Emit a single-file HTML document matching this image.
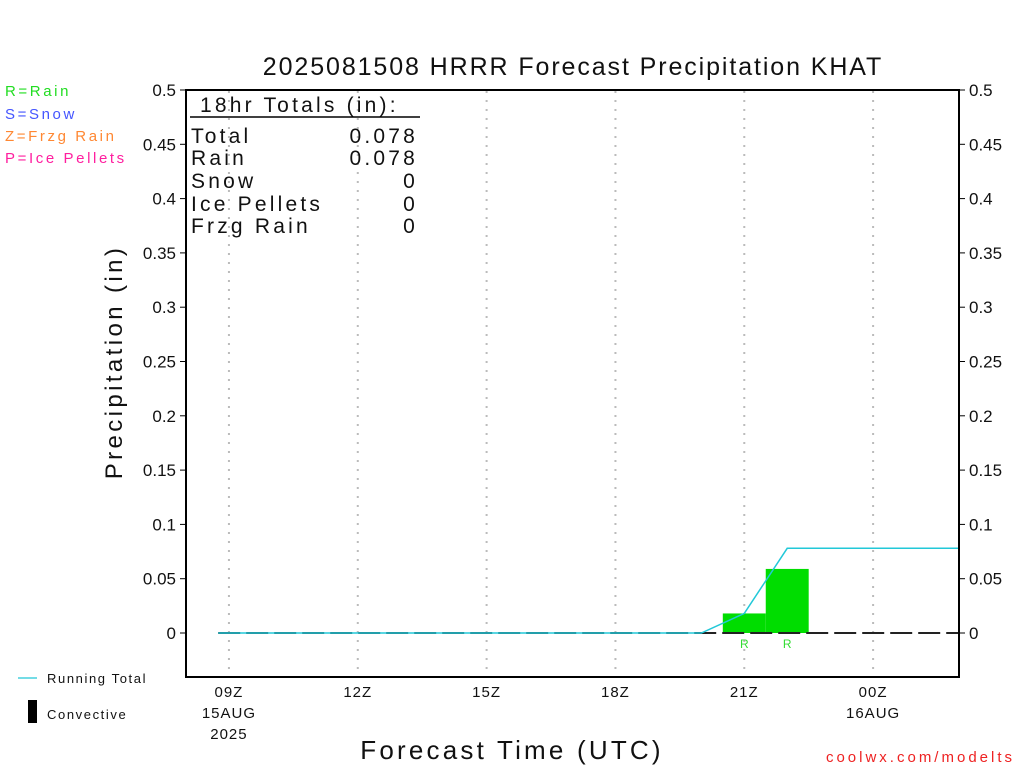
<!DOCTYPE html>
<html><head><meta charset="utf-8"><style>
body{margin:0;background:#fff;width:1024px;height:768px;overflow:hidden;font-family:"Liberation Sans",sans-serif}
svg text{font-family:"Liberation Sans",sans-serif}
</style></head><body>
<svg id="chart" width="1024" height="768">
<text x="573" y="75" font-size="25" letter-spacing="1.9" text-anchor="middle" fill="#111">2025081508 HRRR Forecast Precipitation KHAT</text>
<g font-size="15" letter-spacing="2.6">
<text x="5" y="96" fill="#22dd22">R=Rain</text>
<text x="5" y="119" fill="#4455ff">S=Snow</text>
<text x="5" y="141" fill="#ff8833">Z=Frzg Rain</text>
<text x="5" y="163" fill="#ff1f9f">P=Ice Pellets</text>
</g>
<g id="grid"></g>
<g id="marks"></g>
<rect x="186" y="90" width="773" height="587" fill="none" stroke="#000" stroke-width="2"/>
<g id="axes" font-size="17" fill="#111"></g>
<text transform="translate(122,362) rotate(-90)" font-size="24" letter-spacing="3.4" text-anchor="middle" fill="#111">Precipitation (in)</text>
<text x="512" y="759" font-size="26" letter-spacing="3.2" text-anchor="middle" fill="#111">Forecast Time (UTC)</text>
<text x="1015" y="762" font-size="15" letter-spacing="3" text-anchor="end" fill="#ee2222">coolwx.com/modelts</text>
<g font-size="21" letter-spacing="3.2" fill="#111">
<text x="200" y="112">18hr Totals (in):</text>
<line x1="190" y1="117" x2="420" y2="117" stroke="#000" stroke-width="1.5"/>
<text x="191" y="143">Total</text><text x="418" y="143" text-anchor="end">0.078</text>
<text x="191" y="165">Rain</text><text x="418" y="165" text-anchor="end">0.078</text>
<text x="191" y="188">Snow</text><text x="418" y="188" text-anchor="end">0</text>
<text x="191" y="211">Ice Pellets</text><text x="418" y="211" text-anchor="end">0</text>
<text x="191" y="233">Frzg Rain</text><text x="418" y="233" text-anchor="end">0</text>
</g>
<g font-size="13" letter-spacing="1.6" fill="#111">
<line x1="18" y1="678" x2="37" y2="678" stroke="#22c8d8" stroke-width="1.2"/>
<text x="47" y="683">Running Total</text>
<rect x="28" y="700" width="9" height="23" fill="#000"/>
<text x="47" y="719">Convective</text>
</g>
</svg>
<script>
const yTicks=[0,0.05,0.1,0.15,0.2,0.25,0.3,0.35,0.4,0.45,0.5];
const xTickHours=[9,12,15,18,21,24];
const xTickLabels=["09Z","12Z","15Z","18Z","21Z","00Z"];
const xTickDates=["15AUG","","","","","16AUG"];
const barHours=[21,22];
const barValues=[0.018,0.059];
const barTypes=["R","R"];
const totalHours=[8.75,20,21,22,26];
const totalValues=[0,0,0.018,0.078,0.078];
const NS="http://www.w3.org/2000/svg";
const X=h=>186+(h-8)*(773/18);
const Y=v=>633-v*1086;
function mk(tag,attrs,parent){const e=document.createElementNS(NS,tag);for(const k in attrs)e.setAttribute(k,attrs[k]);parent.appendChild(e);return e;}
const grid=document.getElementById('grid'),axes=document.getElementById('axes'),marks=document.getElementById('marks');
xTickHours.forEach((h,i)=>{
 const l=mk('line',{x1:X(h),x2:X(h),y1:91,y2:676,stroke:'#bbb','stroke-width':2,'stroke-dasharray':'2,7'},grid);
 
 
 const t=mk('text',{x:X(h),y:697,'text-anchor':'middle','font-size':15,'letter-spacing':1},axes);t.textContent=xTickLabels[i];
 
 
 if(xTickDates[i]){const d=mk('text',{x:X(h),y:718,'text-anchor':'middle','font-size':15,'letter-spacing':1},axes);d.textContent=xTickDates[i];
 
 }
});
const yr=mk('text',{x:X(9),y:739,'text-anchor':'middle','font-size':15,'letter-spacing':1},axes);yr.textContent="2025";


yTicks.forEach(v=>{
 const tl=mk('text',{x:176,y:Y(v)+6,'text-anchor':'end'},axes);tl.textContent=String(v);
 
 
 const tr=mk('text',{x:969,y:Y(v)+6},axes);tr.textContent=String(v);
 
 
 mk('line',{x1:180,x2:186,y1:Y(v),y2:Y(v),stroke:'#000'},axes);
 mk('line',{x1:959,x2:965,y1:Y(v),y2:Y(v),stroke:'#000'},axes);
});
barHours.forEach((h,i)=>{
 const r=mk('rect',{x:X(h-0.5),y:Y(barValues[i]),width:X(h+0.5)-X(h-0.5),height:Y(0)-Y(barValues[i]),fill:'#00dd00'},marks);
 
 
 const t=mk('text',{x:X(h),y:648,'text-anchor':'middle','font-size':12,fill:'#33dd33'},marks);t.textContent=barTypes[i];
 
 
});
const zl=mk('line',{x1:X(8.75),x2:959,y1:Y(0),y2:Y(0),stroke:'#222','stroke-width':2,'stroke-dasharray':'22,6'},marks);


const pl=mk('polyline',{points:totalHours.map((h,i)=>X(h)+','+Y(totalValues[i])).join(' '),fill:'none',stroke:'#22c8d8','stroke-width':1.5},marks);


</script>
</body></html>
